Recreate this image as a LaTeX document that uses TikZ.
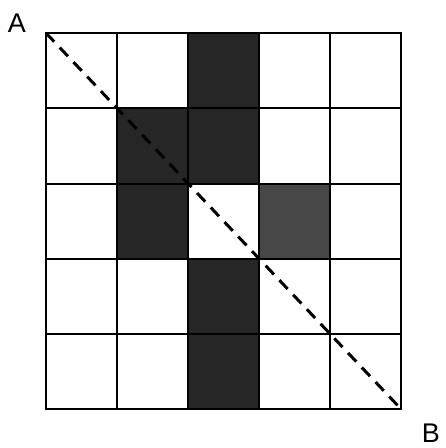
\documentclass[tikz,border=0pt]{standalone}
\usepackage{fontspec}
\setmainfont{Liberation Sans}
\begin{document}
\begin{tikzpicture}[x=1pt,y=-1pt,
  gridline/.style={line width=1.8pt,line cap=rect},
  darkcell/.style={fill=black!85},
  lightcell/.style={fill=black!72},
  diag/.style={line width=3pt,dash pattern=on 12pt off 8pt},
  lab/.style={font=\fontsize{27}{30}\selectfont,inner sep=0pt}]
\useasboundingbox (0,0) rectangle (446,448);
% shaded cells (col x, row y)
\fill[darkcell] (188,33) rectangle (259,108);
\fill[darkcell] (188,108) rectangle (259,184);
\fill[darkcell] (117,108) rectangle (188,184);
\fill[darkcell] (117,184) rectangle (188,259);
\fill[lightcell] (259,184) rectangle (330,259);
\fill[darkcell] (188,259) rectangle (259,334);
\fill[darkcell] (188,334) rectangle (259,409);
% grid
\foreach \x in {46,117,188,259,330,401} \draw[gridline] (\x,33) -- (\x,409);
\foreach \y in {33,108,184,259,334,409} \draw[gridline] (46,\y) -- (401,\y);
\coordinate (cA) at (46,33);
\coordinate (cB) at (401,409);
\draw[diag] (cA) -- (cB);
\node[lab,anchor=base] (A) at (17,32) {A};
\node[lab,anchor=base] (B) at (431,442) {B};
\end{tikzpicture}
\end{document}
